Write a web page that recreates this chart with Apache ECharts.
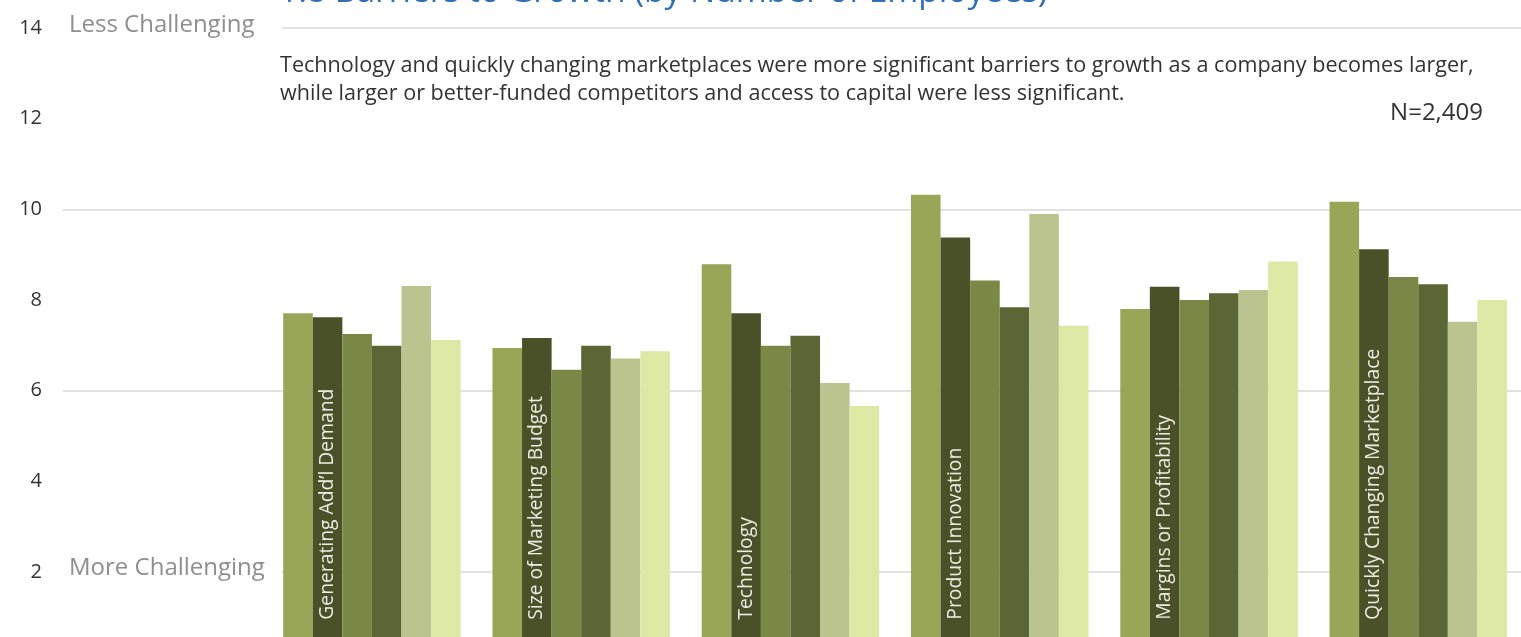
<!DOCTYPE html>
<html>
<head>
<meta charset="utf-8">
<script src="https://cdn.jsdelivr.net/npm/echarts@6/dist/echarts.min.js"></script>
<style>
  html, body { margin: 0; padding: 0; background: #ffffff; }
  #chart { width: 1521px; height: 637px; }
</style>
</head>
<body>
<div id="chart"></div>
<script>
// Barriers to growth, scored per company-size band (higher = less challenging)
const categories = [
  'Generating Add\u2019l Demand',
  'Size of Marketing Budget',
  'Technology',
  'Product Innovation',
  'Margins or Profitability',
  'Quickly Changing Marketplace'
];

const band1 = [7.71, 6.94, 8.79, 10.32, 7.80, 10.17];
const band2 = [7.62, 7.16, 7.71, 9.38, 8.29, 9.12];
const band3 = [7.25, 6.46, 6.99, 8.43, 8.00, 8.51];
const band4 = [6.99, 6.99, 7.21, 7.84, 8.15, 8.35];
const band5 = [8.31, 6.71, 6.17, 9.90, 8.22, 7.52];
const band6 = [7.12, 6.87, 5.66, 7.43, 8.85, 8.00];

const yTicks = { min: 0, max: 14, step: 2 };

const titleText = '1.8 Barriers to Growth (by Number of Employees)';
const subtitleLines = [
  'Technology and quickly changing marketplaces were more significant barriers to growth as a company becomes larger,',
  'while larger or better-funded competitors and access to capital were less significant.'
];
const sampleNote = 'N=2,409';
const topNote = 'Less Challenging';
const bottomNote = 'More Challenging';

const bandColors = ['#9aa657', '#4a5027', '#7b8744', '#5c6634', '#bbc48f', '#dde8a5'];
const FONT = '"Open Sans", Lato, sans-serif';

const chart = echarts.init(document.getElementById('chart'));

// the value axis runs past the bottom edge of the canvas, so 0 is not visible
const plotTop = 28;
const plotHeight = 634.7;

const bands = [band1, band2, band3, band4, band5, band6];
const series = bands.map((vals, i) => {
  const s = {
    name: 'Band ' + (i + 1),
    type: 'bar',
    xAxisIndex: 0,
    yAxisIndex: 0,
    data: vals,
    barGap: '0%',
    barCategoryGap: '15.2%',
    itemStyle: { color: bandColors[i] },
    emphasis: { disabled: true },
    animation: false
  };
  if (i === 1) {
    // category name written upward inside the second bar of each group
    s.label = {
      show: true,
      position: 'insideBottom',
      distance: 43,
      rotate: 90,
      align: 'left',
      verticalAlign: 'middle',
      formatter: (p) => categories[p.dataIndex],
      color: '#ecece4',
      fontFamily: FONT,
      fontSize: 19.3
    };
  }
  return s;
});

const option = {
  animation: false,
  backgroundColor: '#ffffff',
  title: {
    text: titleText,
    left: 279,
    top: -25,
    padding: 0,
    textStyle: { color: '#2f6fb5', fontFamily: FONT, fontSize: 33.5, fontWeight: 'normal' }
  },
  grid: [
    { left: 267.3, width: 1255.6, top: plotTop, height: plotHeight, containLabel: false, outerBoundsMode: 'none' },
    { left: 63, right: 0, top: plotTop, height: plotHeight, containLabel: false, outerBoundsMode: 'none' }
  ],
  xAxis: [
    {
      type: 'category', gridIndex: 0, data: categories,
      axisLine: { show: false }, axisTick: { show: false }, axisLabel: { show: false }
    },
    { type: 'value', gridIndex: 1, show: false, min: 0, max: 1 }
  ],
  yAxis: [
    {
      type: 'value', gridIndex: 0, min: yTicks.min, max: yTicks.max, interval: yTicks.step,
      show: false, splitLine: { show: false }
    },
    {
      type: 'value', gridIndex: 1, min: yTicks.min, max: yTicks.max, interval: yTicks.step,
      axisLine: { show: false }, axisTick: { show: false },
      axisLabel: { margin: 21, color: '#333333', fontFamily: FONT, fontSize: 20 },
      splitLine: {
        show: true,
        lineStyle: { color: ['rgba(0,0,0,0)', '#e2e2e2'], width: 2 }
      }
    }
  ],
  graphic: [
    { type: 'rect', z: 50, shape: { x: 60, y: 10, width: 222, height: 32 }, style: { fill: '#ffffff' } },
    { type: 'text', z: 51, x: 69, y: 25, style: { text: topNote, fill: '#8e8e8e', font: '24px ' + FONT, textVerticalAlign: 'middle' } },
    { type: 'rect', z: 50, shape: { x: 60, y: 553, width: 222, height: 32 }, style: { fill: '#ffffff' } },
    { type: 'text', z: 51, x: 69, y: 568, style: { text: bottomNote, fill: '#8e8e8e', font: '24px ' + FONT, textVerticalAlign: 'middle' } },
    { type: 'text', z: 51, x: 280, y: 66, style: { text: subtitleLines[0], fill: '#333333', font: '21.6px ' + FONT, textVerticalAlign: 'middle' } },
    { type: 'text', z: 51, x: 280, y: 94, style: { text: subtitleLines[1], fill: '#333333', font: '21.6px ' + FONT, textVerticalAlign: 'middle' } },
    { type: 'text', z: 51, x: 1483, y: 113, style: { text: sampleNote, fill: '#333333', font: '24px ' + FONT, textAlign: 'right', textVerticalAlign: 'middle' } }
  ],
  series: series
};

chart.setOption(option);
</script>
</body>
</html>
